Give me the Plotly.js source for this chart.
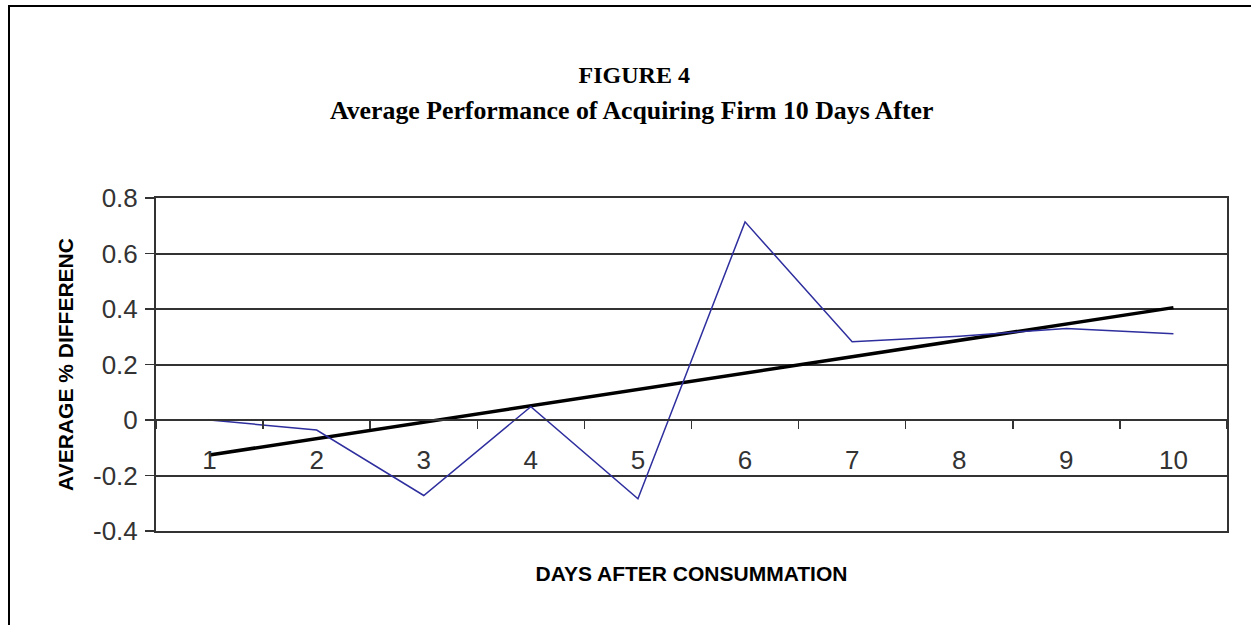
<!DOCTYPE html>
<html>
<head>
<meta charset="utf-8">
<script src="https://cdn.plot.ly/plotly-3.0.1.min.js"></script>
<style>
  html, body { margin: 0; padding: 0; background: #fff; }
  #wrap { position: relative; width: 1251px; height: 625px; overflow: hidden; }
  #chart { width: 1251px; height: 625px; }
  #frame { position: absolute; left: 8px; top: 5px; width: 1300px; height: 700px;
           border-left: 2px solid #000; border-top: 2px solid #000; pointer-events: none; }
</style>
</head>
<body>
<div id="wrap">
  <div id="chart"></div>
  <div id="frame"></div>
</div>
<script>
// ---- data ----
const days = ['1', '2', '3', '4', '5', '6', '7', '8', '9', '10'];
const avgPctDifference = [0.0, -0.036, -0.272, 0.048, -0.284, 0.714, 0.282, 0.302, 0.330, 0.311];
const trendDays = ['1', '10'];
const trendValues = [-0.126, 0.405];
const yTickValues = [-0.4, -0.2, 0, 0.2, 0.4, 0.6, 0.8];
const yTickLabels = ['-0.4', '-0.2', '0', '0.2', '0.4', '0.6', '0.8'];

const titleText = 'FIGURE 4';
const subtitleText = 'Average Performance of Acquiring Firm 10 Days After';
const xTitle = 'DAYS AFTER CONSUMMATION';
const yTitle = 'AVERAGE % DIFFERENC';

const axisColor = '#333333';
const sans = 'Liberation Sans, Arial, sans-serif';
const serif = 'Liberation Serif, Times New Roman, serif';

const traces = [
  {
    type: 'scatter', mode: 'lines', name: 'Average % difference',
    x: days, y: avgPctDifference, xaxis: 'x2', yaxis: 'y',
    line: { color: '#2e2e9e', width: 1.5 },
    hoverinfo: 'x+y'
  },
  {
    type: 'scatter', mode: 'lines', name: 'Linear trend',
    x: trendDays, y: trendValues, xaxis: 'x', yaxis: 'y',
    line: { color: '#000000', width: 3.5 },
    hoverinfo: 'x+y'
  }
];

const layout = {
  width: 1251, height: 625,
  paper_bgcolor: '#ffffff', plot_bgcolor: '#ffffff',
  showlegend: false,
  margin: { l: 156, r: 24, t: 198, b: 93.5, pad: 0 },
  title: {
    text: '<b>' + titleText + '</b>',
    font: { family: serif, size: 24, color: '#000' },
    xref: 'container', x: 0.507, xanchor: 'center',
    yref: 'container', y: 1 - 75 / 625, yanchor: 'middle'
  },
  annotations: [
    {
      text: '<b>' + subtitleText + '</b>',
      xref: 'paper', yref: 'paper',
      x: (631.5 - 156) / (1251 - 156 - 24), y: 1 + (198 - 110) / (625 - 198 - 93.5),
      xanchor: 'center', yanchor: 'middle', showarrow: false,
      font: { family: serif, size: 25.8, color: '#000' }
    }
  ],
  xaxis: {
    type: 'category', categoryorder: 'array', categoryarray: days,
    range: [-0.5, 9.5], fixedrange: true,
    showticklabels: false, ticks: '', showgrid: false, zeroline: false,
    showline: true, linecolor: axisColor, linewidth: 2, mirror: true,
    title: { text: '<b>' + xTitle + '</b>', font: { family: sans, size: 21, color: '#000' }, standoff: 34 }
  },
  xaxis2: {
    type: 'category', categoryorder: 'array', categoryarray: days,
    range: [-0.5, 9.5], fixedrange: true,
    overlaying: 'x', anchor: 'free', position: 1 / 3, side: 'bottom',
    tickson: 'boundaries', ticks: 'outside', ticklen: 8, tickwidth: 1.5, tickcolor: axisColor,
    showgrid: false, zeroline: false,
    showline: true, linecolor: axisColor, linewidth: 2,
    tickfont: { family: sans, size: 26, color: '#333' },
    ticklabelstandoff: 17
  },
  yaxis: {
    range: [-0.4, 0.8], fixedrange: true,
    tickmode: 'array', tickvals: yTickValues, ticktext: yTickLabels,
    ticks: 'outside', ticklen: 9, tickwidth: 1.5, tickcolor: axisColor,
    showgrid: true, gridcolor: axisColor, gridwidth: 2,
    zeroline: false,
    showline: true, linecolor: axisColor, linewidth: 2, mirror: true,
    tickfont: { family: sans, size: 26, color: '#333' },
    ticklabelstandoff: 2,
    title: { text: '<b>' + yTitle + '</b>', font: { family: sans, size: 21, color: '#000' }, standoff: 14 }
  }
};

Plotly.newPlot('chart', traces, layout, { displayModeBar: false, staticPlot: true });
</script>
</body>
</html>
